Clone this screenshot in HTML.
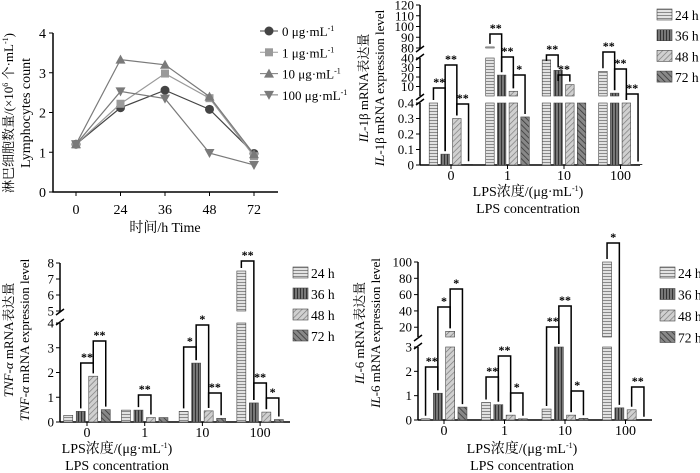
<!DOCTYPE html>
<html><head><meta charset="utf-8"><style>
html,body{margin:0;padding:0;background:#fff;}
svg{display:block;font-family:"Liberation Serif","Noto Serif CJK SC",serif;}
</style></head><body>
<svg id="fig" width="700" height="473" viewBox="0 0 700 473" xmlns="http://www.w3.org/2000/svg">
<defs>
<pattern id="p24" patternUnits="userSpaceOnUse" width="4" height="3"><rect width="4" height="3" fill="#e2e2e2"/><line x1="0" y1="0.5" x2="4" y2="0.5" stroke="#8a8a8a" stroke-width="1"/></pattern>
<pattern id="p36" patternUnits="userSpaceOnUse" width="3" height="4"><rect width="3" height="4" fill="#777"/><line x1="0.5" y1="0" x2="0.5" y2="4" stroke="#333" stroke-width="1"/></pattern>
<pattern id="p48" patternUnits="userSpaceOnUse" width="4" height="4" patternTransform="rotate(45)"><rect width="4" height="4" fill="#d0d0d0"/><line x1="0" y1="0" x2="0" y2="4" stroke="#777" stroke-width="1.3"/></pattern>
<pattern id="p72" patternUnits="userSpaceOnUse" width="4" height="4" patternTransform="rotate(-45)"><rect width="4" height="4" fill="#888"/><line x1="0" y1="0" x2="0" y2="4" stroke="#333" stroke-width="1.5"/></pattern>
</defs>
</svg>
<script>
// ---------- Panel A: lymphocyte counts ----------
const timeCats = ["0","24","36","48","72"];
const lympTicks = [0,1,2,3,4];
const lymp0 = [1.2,2.12,2.56,2.08,0.97];
const lymp1 = [1.2,2.22,2.98,2.36,0.9];
const lymp10 = [1.2,3.33,3.2,2.4,0.95];
const lymp100 = [1.2,2.53,2.35,0.98,0.68];
const lympNames = ["0 μg·mL","1 μg·mL","10 μg·mL","100 μg·mL"];

// ---------- Bar panels ----------
const lpsCats = ["0","1","10","100"];
const hourNames = ["24 h","36 h","48 h","72 h"];
// IL-1β  (index = LPS group)
const il1b24 = [0.4,81,38,26];
const il1b36 = [0.07,22,27,3];
const il1b48 = [0.3,5,12,0.4];
const il1b72 = [0.005,0.31,0.4,0.003];
const il1bTicks = [0,0.1,0.2,0.3,0.4,10,20,30,40,80,90,100,110,120];
// TNF-α
const tnf24 = [0.27,0.48,0.43,7.5];
const tnf36 = [0.43,0.48,2.38,0.77];
const tnf48 = [1.85,0.18,0.45,0.4];
const tnf72 = [0.5,0.18,0.15,0.1];
const tnfTicks = [0,1,2,3,4,5,6,7,8];
// IL-6
const il624 = [0.05,0.72,0.45,100];
const il636 = [1.1,0.63,3,0.5];
const il648 = [15,0.2,0.2,0.42];
const il672 = [0.53,0.05,0.07,0.01];
const il6Ticks = [0,1,2,3,20,40,60,80,100];

const NS="http://www.w3.org/2000/svg";
const svg=document.getElementById('fig');
function mk(tag,attrs,parent,text){const e=document.createElementNS(NS,tag);for(const k in attrs)e.setAttribute(k,attrs[k]);if(text!==undefined)e.textContent=text;(parent||svg).appendChild(e);return e;}

// ===== Panel A =====
(function(){
  const g=mk('g',{});
  
  
  const x0=53,x1=278,yb=192,yt=33;
  const xs=i=>76+i*44.5;
  const ys=v=>yb-(v/4)*(yb-yt);
  const ax=mk('path',{d:`M${x0},${yt} V${yb} H${x1}`,stroke:'#000','stroke-width':1.5,fill:'none'},g);
  
  
  lympTicks.forEach(t=>{mk('line',{x1:x0-4,x2:x0,y1:ys(t),y2:ys(t),stroke:'#000'},g);
    const tl=mk('text',{x:x0-7,y:ys(t)+5,'text-anchor':'end','font-size':14},g,String(t));
    
    });
  timeCats.forEach((c,i)=>{mk('line',{x1:xs(i),x2:xs(i),y1:yb,y2:yb+4,stroke:'#000'},g);
    const tl=mk('text',{x:xs(i),y:214,'text-anchor':'middle','font-size':14},g,c);
    
    });
  const xt=mk('text',{x:165,y:232,'text-anchor':'middle','font-size':14},g,'时间/h Time');
  
  
  const yt1=mk('text',{transform:'translate(13,113) rotate(-90)','text-anchor':'middle','font-size':13},g);
  yt1.innerHTML='淋巴细胞数量/(×10<tspan dy="-5" font-size="8">6</tspan><tspan dy="5"> 个·mL</tspan><tspan dy="-5" font-size="8">-1</tspan><tspan dy="5">)</tspan>';
  
  
  const yt2=mk('text',{transform:'translate(30,113) rotate(-90)','text-anchor':'middle','font-size':14},g,'Lymphocytes count');
  
  
  const series=[lymp0,lymp1,lymp10,lymp100];
  const cols=['#444','#9a9a9a','#7a7a7a','#7a7a7a'];
  const marks=['circle','square','tri','tridown'];
  function marker(type,x,y,c,p){
    let e;
    if(type==='circle')e=mk('circle',{cx:x,cy:y,r:4.5,fill:c},p);
    else if(type==='square')e=mk('rect',{x:x-4,y:y-4,width:8,height:8,fill:c},p);
    else if(type==='tri')e=mk('polygon',{points:`${x},${y-5} ${x-5},${y+4} ${x+5},${y+4}`,fill:c},p);
    else e=mk('polygon',{points:`${x},${y+5} ${x-5},${y-4} ${x+5},${y-4}`,fill:c},p);
    return e;
  }
  series.forEach((s,k)=>{
    const sg=mk('g',{},g);
    
    
    mk('polyline',{points:s.map((v,i)=>xs(i)+','+ys(v)).join(' '),fill:'none',stroke:cols[k],'stroke-width':1.2},sg);
    s.forEach((v,i)=>{const m=marker(marks[k],xs(i),ys(v),cols[k],sg);
      
      });
    const ly=31+k*21.3;
    const lg=mk('g',{},g);
    
    
    mk('line',{x1:260,x2:278,y1:ly,y2:ly,stroke:cols[k]},lg);
    marker(marks[k],269,ly,cols[k],lg);
    const t=mk('text',{x:282,y:ly+5,'font-size':13},lg);
    t.innerHTML=lympNames[k]+'<tspan dy="-5" font-size="8">-1</tspan>';
  });
})();

// ===== generic broken-axis bar panel =====
function barPanel(cfg,vals,ticks,brackets){
  const g=mk('g',{});
  
  
  const segs=cfg.segs;
  function ys(v){for(const s of segs){if(v>=s.d0&&v<=s.d1)return s.p0-(v-s.d0)/(s.d1-s.d0)*(s.p0-s.p1);}return null;}
  const xAxisY=segs[0].p0;
  segs.forEach((s,i)=>{mk('line',{x1:cfg.ax,x2:cfg.ax,y1:s.p0,y2:s.p1,stroke:'#000','stroke-width':1.5},g);
    if(i>0){
      mk('line',{x1:cfg.ax-4,x2:cfg.ax+4,y1:segs[i-1].p1+2,y2:segs[i-1].p1-4,stroke:'#000','stroke-width':1.5},g);
      mk('line',{x1:cfg.ax-4,x2:cfg.ax+4,y1:s.p0+4,y2:s.p0-2,stroke:'#000','stroke-width':1.5},g);}});
  mk('line',{x1:cfg.ax,x2:cfg.xEnd,y1:xAxisY,y2:xAxisY,stroke:'#000','stroke-width':1.5},g);
  ticks.forEach(t=>{const y=ys(t);if(y===null)return;
    mk('line',{x1:cfg.ax-4,x2:cfg.ax,y1:y,y2:y,stroke:'#000'},g);
    const tl=mk('text',{x:cfg.ax-6,y:y+4.5,'text-anchor':'end','font-size':13},g,String(t));
    
    });
  const pats=['url(#p24)','url(#p36)','url(#p48)','url(#p72)'];
  const bx=(gi,h)=>cfg.gx0+gi*cfg.gstep+(h-1.5)*cfg.bstep;
  lpsCats.forEach((c,gi)=>{
    const cx=cfg.gx0+gi*cfg.gstep;
    mk('line',{x1:cx,x2:cx,y1:xAxisY,y2:xAxisY+4,stroke:'#000'},g);
    const tl=mk('text',{x:cx,y:cfg.tickY,'text-anchor':'middle','font-size':14},g,c);
    
    
    vals.forEach((arr,h)=>{const v=arr[gi];const x=bx(gi,h)-cfg.bw/2;
      const bg=mk('g',{},g);
      
      
      segs.forEach((s,si)=>{
        if(si>0&&(v<=s.d0||v<=segs[si-1].d1))return;
        const top=ys(Math.min(v,s.d1));const bot=s.p0;
        if(bot-top<0.8){mk('line',{x1:x,x2:x+cfg.bw,y1:bot-0.5,y2:bot-0.5,stroke:'#333'},bg);return;}
        mk('rect',{x:x,y:top,width:cfg.bw,height:bot-top,fill:pats[h],stroke:'#444','stroke-width':0.6},bg);});
    });
  });
  // significance brackets [group, barA, barB, label, topPixel]
  brackets.forEach(b=>{
    const xa=bx(b[0],b[1]),xb=bx(b[0],b[2]);
    const yA=ys(Math.min(vals[b[1]][b[0]],segs[segs.length-1].d1)),yB=ys(Math.min(vals[b[2]][b[0]],segs[segs.length-1].d1));
    const la=Math.max(yA-3,b[4]+6),lb=Math.max(yB-3,b[4]+6);
    const br=mk('path',{d:`M${xa},${la} V${b[4]} H${xb} V${lb}`,fill:'none',stroke:'#000','stroke-width':1.5},g);
    
    
    const st=mk('text',{x:(xa+xb)/2,y:b[4]-2,'text-anchor':'middle','font-size':12,'font-weight':'bold'},g,b[3]);
    
    
  });
  hourNames.forEach((n,h)=>{const y=cfg.legY+h*cfg.legStep;
    const lg=mk('g',{},g);
    
    
    mk('rect',{x:cfg.legX,y:y-6,width:15,height:11,fill:pats[h],stroke:'#444','stroke-width':0.6},lg);
    mk('text',{x:cfg.legX+18,y:y+5,'font-size':13.5},lg,n);});
  const t1=mk('text',{x:cfg.titleX,y:cfg.t1Y,'text-anchor':'middle','font-size':14},g);
  t1.innerHTML='LPS浓度/(μg·mL<tspan dy="-5" font-size="8">-1</tspan><tspan dy="5">)</tspan>';
  
  
  const t2=mk('text',{x:cfg.titleX,y:cfg.t1Y+17,'text-anchor':'middle','font-size':14},g,'LPS concentration');
  
  
  const y1=mk('text',{transform:`translate(${cfg.yTitleX},${cfg.yTitleY}) rotate(-90)`,'text-anchor':'middle','font-size':13},g);
  y1.innerHTML=`<tspan font-style="italic">${cfg.gene}</tspan>${cfg.geneRest} mRNA表达量`;
  
  
  const y2=mk('text',{transform:`translate(${cfg.yTitleX+16},${cfg.yTitleY}) rotate(-90)`,'text-anchor':'middle','font-size':13},g);
  y2.innerHTML=`<tspan font-style="italic">${cfg.gene}</tspan>${cfg.geneRest} mRNA expression level`;
  
  
}

barPanel({name:'il1b-bar-chart',ax:420,xEnd:640,gx0:451,gstep:56.5,bstep:11.7,bw:8.5,tickY:180,t1Y:196,titleX:528,
  segs:[{d0:0,d1:0.4,p0:165,p1:103},{d0:0,d1:40,p0:96,p1:58},{d0:80,d1:120,p0:48,p1:5}],
  legX:657,legY:15,legStep:20.7,yTitleX:368,yTitleY:88,gene:'IL',geneRest:'-1β'},
  [il1b24,il1b36,il1b48,il1b72],il1bTicks,
  [[0,0,1,'**',88],[0,1,2,'**',65],[0,2,3,'**',104],[1,0,1,'**',34],[1,1,2,'**',57],[1,2,3,'*',75],
   [2,0,1,'**',55],[2,1,2,'**',75],[3,0,1,'**',52],[3,1,2,'**',69],[3,2,3,'**',94]]);

barPanel({name:'tnf-alpha-bar-chart',ax:60,xEnd:290,gx0:87,gstep:57.7,bstep:12.5,bw:9,tickY:437,t1Y:453,titleX:117,
  segs:[{d0:0,d1:4,p0:422,p1:323},{d0:5,d1:8,p0:311,p1:263}],
  legX:293,legY:273,legStep:21,yTitleX:13,yTitleY:340,gene:'TNF-α',geneRest:''},
  [tnf24,tnf36,tnf48,tnf72],tnfTicks,
  [[0,1,2,'**',363],[0,2,3,'**',341],[1,1,2,'**',395],[2,0,1,'*',347],[2,1,2,'*',325],[2,2,3,'**',393],
   [3,0,1,'**',261],[3,1,2,'**',383],[3,2,3,'*',398]]);

barPanel({name:'il6-bar-chart',ax:418,xEnd:652,gx0:444,gstep:60.5,bstep:12.3,bw:9,tickY:435,t1Y:453,titleX:522,
  segs:[{d0:0,d1:3,p0:420,p1:347},{d0:8,d1:100,p0:337,p1:262}],
  legX:660,legY:273,legStep:21.5,yTitleX:364,yTitleY:333,gene:'IL',geneRest:'-6'},
  [il624,il636,il648,il672],il6Ticks,
  [[0,0,1,'**',367],[0,1,2,'*',307],[0,2,3,'*',289],[1,0,1,'**',377],[1,1,2,'**',356],[1,2,3,'*',393],
   [2,0,1,'**',327],[2,1,2,'**',306],[2,2,3,'*',391],[3,0,1,'*',243],[3,2,3,'**',387]]);
</script>
</body></html>
